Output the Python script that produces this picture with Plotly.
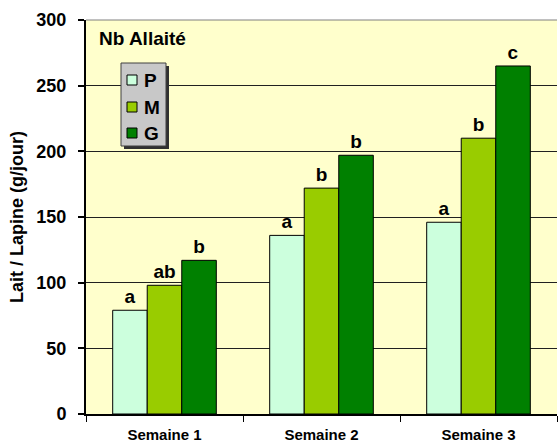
import plotly.graph_objects as go

categories = ["Semaine 1", "Semaine 2", "Semaine 3"]
series_names = ["P", "M", "G"]
values_P = [79, 136, 146]
values_M = [98, 172, 210]
values_G = [117, 197, 265]
letters_P = ["a", "a", "a"]
letters_M = ["ab", "b", "b"]
letters_G = ["b", "b", "c"]
colors = ["#CCFFDD", "#99CC00", "#008000"]
y_ticks = [0, 50, 100, 150, 200, 250, 300]

FONT = "Liberation Sans, Arial, sans-serif"
W, H = 558, 446
ML, MR, MT, MB = 86, 1, 20, 32
PW, PH = W - ML - MR, H - MT - MB


def px(x):
    return (x - ML) / PW


def py(y):
    return (H - MB - y) / PH


fig = go.Figure()
for name, vals, lets, col in zip(series_names, [values_P, values_M, values_G],
                                 [letters_P, letters_M, letters_G], colors):
    fig.add_trace(go.Bar(
        x=categories, y=vals, name=name, text=lets,
        textposition="outside", cliponaxis=False,
        textfont=dict(family=FONT, size=19, color="black", weight="bold"),
        marker=dict(color=col, line=dict(color="black", width=1)),
        showlegend=False,
    ))

shapes = [
    dict(type="line", xref="paper", yref="paper", x0=0, x1=1, y0=1, y1=1,
         line=dict(color="#808080", width=1)),
    # legend shadow
    dict(type="rect", xref="paper", yref="paper",
         x0=px(124), x1=px(169), y0=py(149), y1=py(66),
         fillcolor="#303030", line=dict(width=0)),
    # legend box
    dict(type="rect", xref="paper", yref="paper",
         x0=px(121), x1=px(166), y0=py(146), y1=py(63),
         fillcolor="#C8C8C8", line=dict(color="#404040", width=1)),
]
annotations = [dict(
    text="Nb Allaité", xref="paper", yref="paper", x=px(97), y=py(38),
    xanchor="left", yanchor="middle", showarrow=False,
    font=dict(family=FONT, size=19, weight="bold"),
)]
legend_y = [80, 107, 133]
for name, col, yc in zip(series_names, colors, legend_y):
    shapes.append(dict(type="rect", xref="paper", yref="paper",
                       x0=px(127), x1=px(137), y0=py(yc + 5), y1=py(yc - 5),
                       fillcolor=col, line=dict(color="black", width=1)))
    annotations.append(dict(text=name, xref="paper", yref="paper",
                            x=px(142), y=py(yc), xanchor="left", yanchor="middle",
                            showarrow=False,
                            font=dict(family=FONT, size=19, weight="bold")))

fig.update_layout(
    width=W, height=H,
    margin=dict(l=ML, r=MR, t=MT, b=MB),
    paper_bgcolor="white",
    plot_bgcolor="#FFFFCC",
    barmode="group", bargap=0.34, bargroupgap=0,
    font=dict(family=FONT, color="black"),
    showlegend=False,
    xaxis=dict(
        automargin=False,
        showline=True, linecolor="black", linewidth=2,
        ticks="outside", tickson="boundaries", ticklen=6, tickwidth=1,
        tickcolor="black", ticklabelstandoff=6,
        tickfont=dict(family=FONT, size=15, weight="bold"),
        range=[-0.5, 2.5],
    ),
    yaxis=dict(
        automargin=False,
        range=[0, 300], tickvals=y_ticks,
        showline=True, linecolor="black", linewidth=2,
        ticks="outside", ticklen=6, tickwidth=2, tickcolor="black",
        ticklabelstandoff=8,
        showgrid=True, gridcolor="#202020", gridwidth=1,
        zeroline=False,
        tickfont=dict(family=FONT, size=18, weight="bold"),
        title=dict(text="Lait / Lapine (g/jour)",
                   font=dict(family=FONT, size=18, weight="bold"), standoff=8),
    ),
    annotations=annotations,
    shapes=shapes,
)

fig.write_html("out.html", config={"displayModeBar": False},
               post_script="document.body.style.margin='0';document.body.style.overflow='hidden';")
